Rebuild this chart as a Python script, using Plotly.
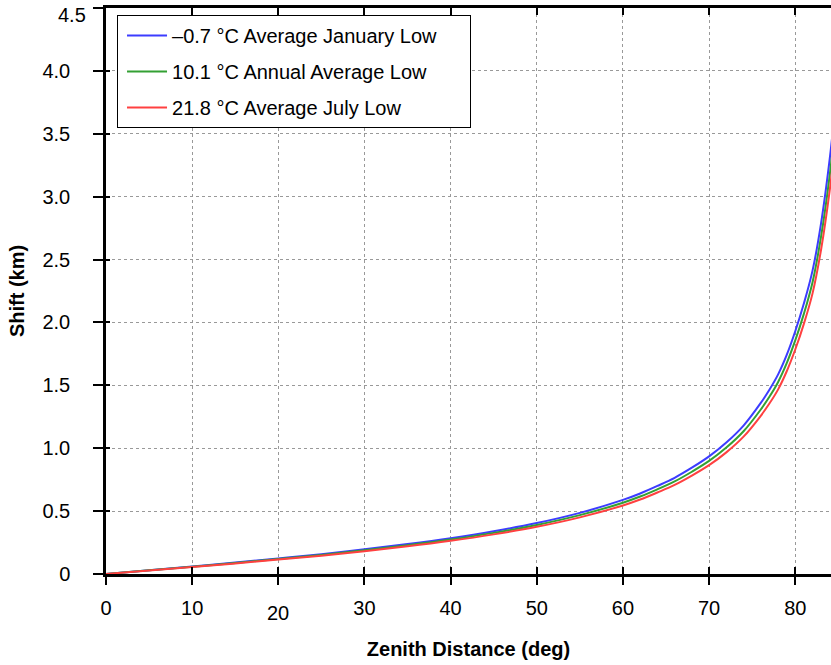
import plotly.graph_objects as go

# Zenith distance (deg)
zenith = [0, 5, 10, 15, 20, 25, 30, 35, 40, 45, 50, 55, 60, 62, 64, 66, 68, 70,
          72, 74, 76, 77, 78, 79, 80, 81, 82, 83, 84, 84.5]
# Shift (km) for each temperature
shift_jan = [0, 0.030, 0.060, 0.091, 0.124, 0.158, 0.196, 0.238, 0.285, 0.340, 0.405,
             0.486, 0.589, 0.640, 0.700, 0.765, 0.845, 0.935, 1.045, 1.180, 1.360,
             1.465, 1.585, 1.740, 1.930, 2.150, 2.410, 2.790, 3.300, 3.620]
shift_annual = [0, 0.029, 0.058, 0.088, 0.119, 0.152, 0.189, 0.229, 0.274, 0.327, 0.390,
                0.468, 0.567, 0.616, 0.673, 0.736, 0.813, 0.899, 1.005, 1.135, 1.308,
                1.409, 1.525, 1.674, 1.857, 2.068, 2.318, 2.684, 3.170, 3.480]
shift_july = [0, 0.028, 0.056, 0.084, 0.115, 0.146, 0.181, 0.220, 0.264, 0.315, 0.375,
              0.450, 0.545, 0.592, 0.648, 0.708, 0.782, 0.865, 0.967, 1.092, 1.258,
              1.355, 1.466, 1.610, 1.785, 1.989, 2.229, 2.580, 3.050, 3.350]
names = ["\u20130.7 \u00b0C Average January Low",
         "10.1 \u00b0C Annual Average Low",
         "21.8 \u00b0C Average July Low"]
colors = ["#3c3cff", "#33a033", "#ff4040"]

x_ticks = [0, 10, 20, 30, 40, 50, 60, 70, 80]
x_ticktext = ["0", "10", "", "30", "40", "50", "60", "70", "80"]   # "20" drawn lower, below
y_ticks = [0, 0.5, 1.0, 1.5, 2.0, 2.5, 3.0, 3.5, 4.0, 4.5]
y_ticktext = ["0", "0.5", "1.0", "1.5", "2.0", "2.5", "3.0", "3.5", "4.0", ""]  # "4.5" below

FONT = "Liberation Sans, Arial, sans-serif"
PAD = "\u00a0" * 5   # widen the legend box

fig = go.Figure()
for i, (ys, nm, col) in enumerate(zip([shift_jan, shift_annual, shift_july], names, colors)):
    fig.add_trace(go.Scatter(x=zenith, y=ys, mode="lines", name=nm + PAD,
                             line=dict(color=col, width=2, shape="spline"),
                             legendgroup=f"g{i}"))
# helper trace for inner tick axes
fig.add_trace(go.Scatter(x=[None], y=[None], xaxis="x2", yaxis="y2",
                         showlegend=False, hoverinfo="skip"))

XR = [0, 84.15]
YR = [0, 4.5]
fig.update_layout(
    width=831, height=665,
    margin=dict(l=106, r=0, t=8, b=90.5, autoexpand=False),
    plot_bgcolor="white", paper_bgcolor="white",
    font=dict(family=FONT, size=20, color="black"),
    showlegend=True,
    legend=dict(x=0.0152, y=0.9876, xanchor="left", yanchor="top",
                bordercolor="black", borderwidth=1, bgcolor="white",
                font=dict(family=FONT, size=20), indentation=4, itemwidth=40,
                tracegroupgap=7, traceorder="grouped"),
    xaxis=dict(range=XR, tickvals=x_ticks, ticktext=x_ticktext, ticks="outside",
               ticklen=8, tickwidth=1.5,
               tickcolor="black", showline=True, linecolor="black", linewidth=2.5,
               mirror=False, showgrid=True, gridcolor="#999999", griddash="dot",
               gridwidth=1, zeroline=False, ticklabelstandoff=6, automargin=False,
               title=dict(text="<b>Zenith Distance (deg)</b>", font=dict(size=20), standoff=25)),
    yaxis=dict(range=YR, tickvals=y_ticks, ticktext=y_ticktext, ticks="outside",
               ticklen=10, tickwidth=1.5, tickcolor="black", showline=True,
               linecolor="black", linewidth=2.5, mirror=False, showgrid=True,
               gridcolor="#999999", griddash="dot", gridwidth=1, zeroline=False,
               ticklabelstandoff=19, automargin=False,
               title=dict(text="<b>Shift (km)</b>", font=dict(size=20), standoff=13)),
    xaxis2=dict(range=XR, overlaying="x", side="bottom", tickvals=x_ticks,
                ticks="inside", ticklen=7, tickwidth=1.5, tickcolor="black",
                showticklabels=False, showgrid=False, zeroline=False, automargin=False,
                showline=True, linecolor="black", linewidth=3, mirror="ticks"),
    yaxis2=dict(range=YR, overlaying="y", side="left", tickvals=y_ticks,
                ticks="inside", ticklen=4, tickwidth=1.5, tickcolor="black",
                showticklabels=False, showgrid=False, zeroline=False, automargin=False,
                showline=False),
    annotations=[
        dict(text="4.5", x=0, xref="paper", y=4.5, yref="y", xanchor="right",
             yanchor="top", xshift=-18, yshift=6, showarrow=False,
             font=dict(family=FONT, size=20)),
        dict(text="20", x=20, xref="x", y=0, yref="paper", xanchor="center",
             yanchor="top", yshift=-26, showarrow=False,
             font=dict(family=FONT, size=20)),
    ],
)
fig.write_html(
    "out.html",
    config={"displayModeBar": False},
    post_script=("document.body.style.margin='0';"
                 "document.documentElement.style.overflow='hidden';"
                 "document.body.style.overflow='hidden';"),
)
